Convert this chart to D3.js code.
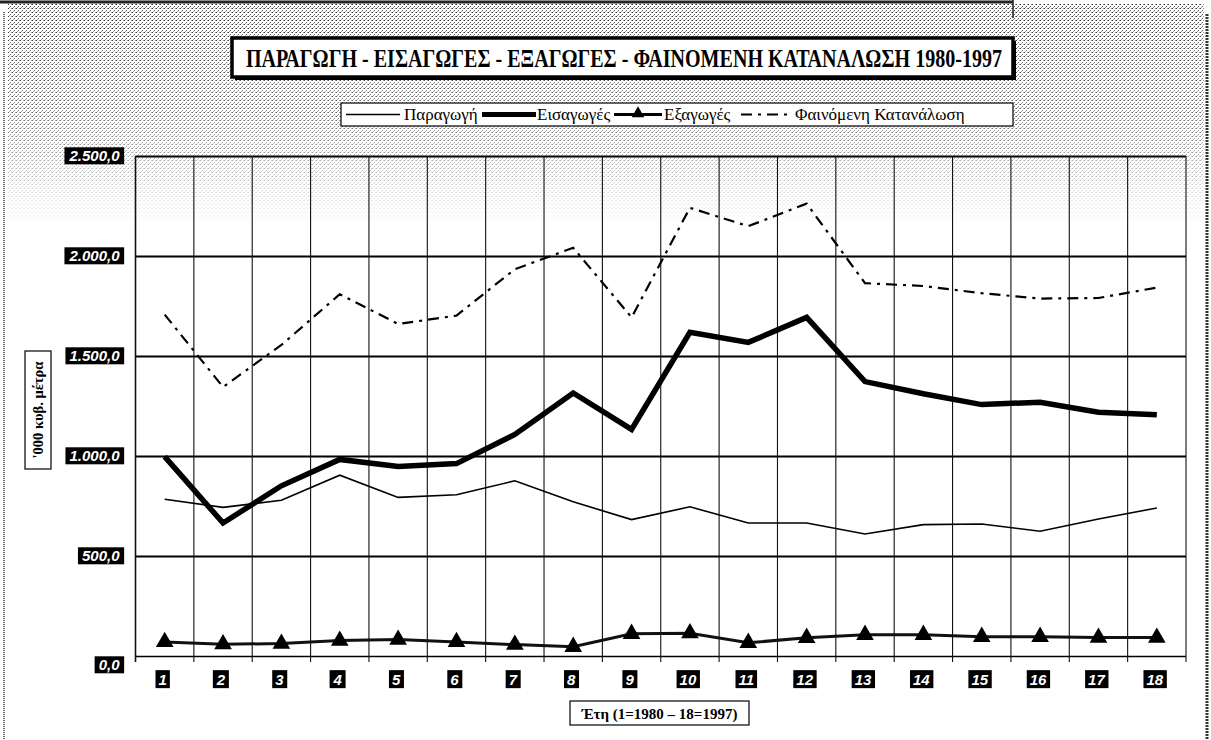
<!DOCTYPE html>
<html>
<head>
<meta charset="utf-8">
<script src="https://cdn.jsdelivr.net/npm/d3@7"></script>
<style>
  body { margin: 0; background: #fff; }
  svg { display: block; }
</style>
</head>
<body>
<svg id="chart" width="1211" height="740"></svg>
<script>
// ── Data ─────────────────────────────────────────────
const years       = ["1","2","3","4","5","6","7","8","9","10","11","12","13","14","15","16","17","18"]
const production  = [784, 743, 779, 904, 793, 806, 876, 771, 682, 746, 665, 665, 610, 657, 660, 624, 685, 740]
const imports     = [997, 665, 851, 983, 947, 962, 1108, 1315, 1133, 1618, 1568, 1693, 1372, 1311, 1257, 1269, 1219, 1206]
const exports     = [70, 59, 62, 77, 82, 70, 57, 46, 111, 114, 66, 91, 106, 106, 96, 96, 92, 92]
const consumption = [1707, 1345, 1555, 1809, 1660, 1702, 1934, 2041, 1693, 2241, 2149, 2262, 1864, 1850, 1814, 1787, 1790, 1842]
const yTicks      = [0, 500, 1000, 1500, 2000, 2500]
const seriesNames = ["Παραγωγή", "Εισαγωγές", "Εξαγωγές", "Φαινόμενη Κατανάλωση"]
const titleText   = "ΠΑΡΑΓΩΓΗ - ΕΙΣΑΓΩΓΕΣ - ΕΞΑΓΩΓΕΣ - ΦΑΙΝΟΜΕΝΗ ΚΑΤΑΝΑΛΩΣΗ 1980-1997"
const yTitleText  = "'000 κυβ. μέτρα"
const xTitleText  = "Έτη (1=1980 – 18=1997)"

const SERIF = "'Liberation Serif', 'Times New Roman', serif"
const SANS  = "'Liberation Sans', Arial, sans-serif"

const svg = d3.select("#chart")
const m = { left: 135.5, right: 1186, top: 156, bottom: 656 }

const x  = d3.scaleBand().domain(years).range([m.left, m.right])
const y  = d3.scaleLinear().domain([0, 2500]).range([m.bottom, m.top])
const cx = d => x(d) + x.bandwidth() / 2

const greek = d3.formatLocale({ decimal: ",", thousands: ".", grouping: [3], currency: ["", "€"] })
const fmt   = greek.format(",.1f")

// ── Defs: halftone stipple ───────────────────────────
const defs = svg.append("defs")
const pat = defs.append("pattern").attr("id", "dots")
  .attr("width", 4).attr("height", 4).attr("patternUnits", "userSpaceOnUse")
pat.append("rect").attr("x", 0).attr("y", 0).attr("width", 1).attr("height", 1).attr("fill", "#333")
pat.append("rect").attr("x", 2).attr("y", 2).attr("width", 1).attr("height", 1).attr("fill", "#555")
pat.append("rect").attr("x", 3).attr("y", 0).attr("width", 1).attr("height", 1).attr("fill", "#888")
pat.append("rect").attr("x", 1).attr("y", 3).attr("width", 1).attr("height", 1).attr("fill", "#999")

const grad = defs.append("linearGradient").attr("id", "fade")
  .attr("x1", 0).attr("y1", 0).attr("x2", 0).attr("y2", 1)
grad.append("stop").attr("offset", "0%").attr("stop-color", "#fff").attr("stop-opacity", 1)
grad.append("stop").attr("offset", "50%").attr("stop-color", "#fff").attr("stop-opacity", 0.75)
grad.append("stop").attr("offset", "100%").attr("stop-color", "#fff").attr("stop-opacity", 0)
const mask = defs.append("mask").attr("id", "fadeMask")
mask.append("rect").attr("x", 0).attr("y", 4).attr("width", 1211).attr("height", 220).attr("fill", "url(#fade)")

svg.append("rect")
  .attr("x", 8).attr("y", 4).attr("width", 1196).attr("height", 220)
  .attr("fill", "url(#dots)").attr("mask", "url(#fadeMask)")

// ── Page frame ───────────────────────────────────────
svg.append("line").attr("x1", 0).attr("x2", 1013).attr("y1", 2).attr("y2", 2)
  .attr("stroke", "#222").attr("stroke-width", 3)
svg.append("line").attr("x1", 1013).attr("x2", 1013).attr("y1", 0).attr("y2", 18)
  .attr("stroke", "#222").attr("stroke-width", 1.5)
svg.append("line").attr("x1", 1207).attr("x2", 1207).attr("y1", 14).attr("y2", 740)
  .attr("stroke", "#333").attr("stroke-width", 3).attr("stroke-dasharray", "2,1")
svg.append("line").attr("x1", 4).attr("x2", 4).attr("y1", 12).attr("y2", 740)
  .attr("stroke", "#666").attr("stroke-width", 2).attr("stroke-dasharray", "1,1")

// ── Grid ─────────────────────────────────────────────
svg.append("g")
  .attr("transform", `translate(${m.left},0)`)
  .call(d3.axisLeft(y).tickValues(yTicks).tickSize(-(m.right - m.left)).tickFormat(""))
  .call(g => g.select(".domain").remove())
  .call(g => g.selectAll(".tick line")
    .attr("stroke", "#000")
    .attr("stroke-width", d => d === 0 ? 1.3 : 2.2))

const bounds = years.map(d => x(d)).concat([m.right])
svg.append("g").selectAll("line").data(bounds).join("line")
  .attr("x1", d => d).attr("x2", d => d)
  .attr("y1", m.top).attr("y2", m.bottom + 6)
  .attr("stroke", "#111")
  .attr("stroke-width", (d, i) => i === 0 ? 1.6 : 1.1)

// ── Series ───────────────────────────────────────────
const line = d3.line().x((d, i) => cx(years[i])).y(d => y(d))

svg.append("path").datum(production)
  .attr("d", line).attr("fill", "none")
  .attr("stroke", "#000").attr("stroke-width", 1.6)

svg.append("path").datum(consumption)
  .attr("d", line).attr("fill", "none")
  .attr("stroke", "#000").attr("stroke-width", 2.2)
  .attr("stroke-dasharray", "11,6,3,6")

svg.append("path").datum(imports)
  .attr("d", line).attr("fill", "none")
  .attr("stroke", "#000").attr("stroke-width", 5.5)
  .attr("stroke-linejoin", "miter")

svg.append("path").datum(exports)
  .attr("d", line).attr("fill", "none")
  .attr("stroke", "#111").attr("stroke-width", 3)

const tri = d3.symbol().type(d3.symbolTriangle).size(135)
svg.append("g").selectAll("path").data(exports).join("path")
  .attr("d", tri)
  .attr("transform", (d, i) => `translate(${cx(years[i])},${y(d)})`)
  .attr("fill", "#000")

// ── Axes labels ──────────────────────────────────────
function boxLabels(g, padX, padY) {
  g.selectAll(".tick").each(function () {
    const t = d3.select(this).select("text")
    const b = t.node().getBBox()
    d3.select(this).insert("rect", "text")
      .attr("x", b.x - padX).attr("y", b.y - padY)
      .attr("width", b.width + padX * 2).attr("height", b.height + padY * 2)
      .attr("fill", "#000")
  })
}

const yAx = svg.append("g")
  .attr("transform", `translate(${m.left},0)`)
  .call(d3.axisLeft(y).tickValues(yTicks).tickFormat(fmt).tickSize(0).tickPadding(16))
yAx.select(".domain").remove()
yAx.selectAll("text")
  .attr("font-family", SANS).attr("font-style", "italic").attr("font-weight", "bold")
  .attr("font-size", 15).attr("fill", "#fff")
  .attr("y", d => d === 0 ? 9 : 0)
boxLabels(yAx, 4, 0)

const xAx = svg.append("g")
  .attr("transform", `translate(0,${m.bottom})`)
  .call(d3.axisBottom(x).tickSize(0).tickPadding(18))
xAx.select(".domain").remove()
xAx.selectAll("text")
  .attr("font-family", SANS).attr("font-style", "italic").attr("font-weight", "bold")
  .attr("font-size", 15).attr("fill", "#fff")
  .attr("dx", -2)
boxLabels(xAx, 3, 0.5)

// ── Title ────────────────────────────────────────────
const tg = svg.append("g")
tg.append("rect").attr("x", 235).attr("y", 41).attr("width", 781).attr("height", 39).attr("fill", "#000")
tg.append("rect").attr("x", 232).attr("y", 38).attr("width", 781).attr("height", 39)
  .attr("fill", "#fff").attr("stroke", "#000").attr("stroke-width", 3.5)
tg.append("text")
  .attr("x", 624).attr("y", 67).attr("text-anchor", "middle")
  .attr("font-family", SERIF).attr("font-weight", "bold").attr("font-size", 25)
  .attr("textLength", 756).attr("lengthAdjust", "spacingAndGlyphs")
  .text(titleText)

// ── Legend ───────────────────────────────────────────
const lg = svg.append("g")
lg.append("rect").attr("x", 341).attr("y", 103).attr("width", 672).attr("height", 23)
  .attr("fill", "#fff").attr("stroke", "#000").attr("stroke-width", 1.2)
const ly = 114.5
const legendItems = [
  { name: seriesNames[0], x0: 346, x1: 400, tx: 404, w: 1.6 },
  { name: seriesNames[1], x0: 482, x1: 536, tx: 537, w: 5 },
  { name: seriesNames[2], x0: 614, x1: 662, tx: 664, w: 3, marker: true },
  { name: seriesNames[3], x0: 741, x1: 789, tx: 795, w: 2.2, dash: "11,6,3,6" }
]
legendItems.forEach(it => {
  lg.append("line").attr("x1", it.x0).attr("x2", it.x1).attr("y1", ly).attr("y2", ly)
    .attr("stroke", "#000").attr("stroke-width", it.w)
    .attr("stroke-dasharray", it.dash || null)
  if (it.marker) {
    lg.append("path").attr("d", d3.symbol().type(d3.symbolTriangle).size(70)())
      .attr("transform", `translate(${(it.x0 + it.x1) / 2},${ly - 1})`).attr("fill", "#000")
  }
  lg.append("text").attr("x", it.tx).attr("y", ly + 5.5)
    .attr("font-family", SERIF).attr("font-size", 17)
    .text(it.name)
})

// ── Axis titles ──────────────────────────────────────
svg.append("rect").attr("x", 25).attr("y", 351).attr("width", 26).attr("height", 118)
  .attr("fill", "#fff").attr("stroke", "#000").attr("stroke-width", 1.2)
svg.append("text")
  .attr("transform", "translate(43,410) rotate(-90)")
  .attr("text-anchor", "middle")
  .attr("font-family", SERIF).attr("font-weight", "bold").attr("font-size", 14.5)
  .text(yTitleText)

svg.append("rect").attr("x", 570).attr("y", 701).attr("width", 179).attr("height", 24)
  .attr("fill", "#fff").attr("stroke", "#000").attr("stroke-width", 1.2)
svg.append("text")
  .attr("x", 659.5).attr("y", 718.5).attr("text-anchor", "middle")
  .attr("font-family", SERIF).attr("font-weight", "bold").attr("font-size", 15)
  .text(xTitleText)
</script>
</body>
</html>
